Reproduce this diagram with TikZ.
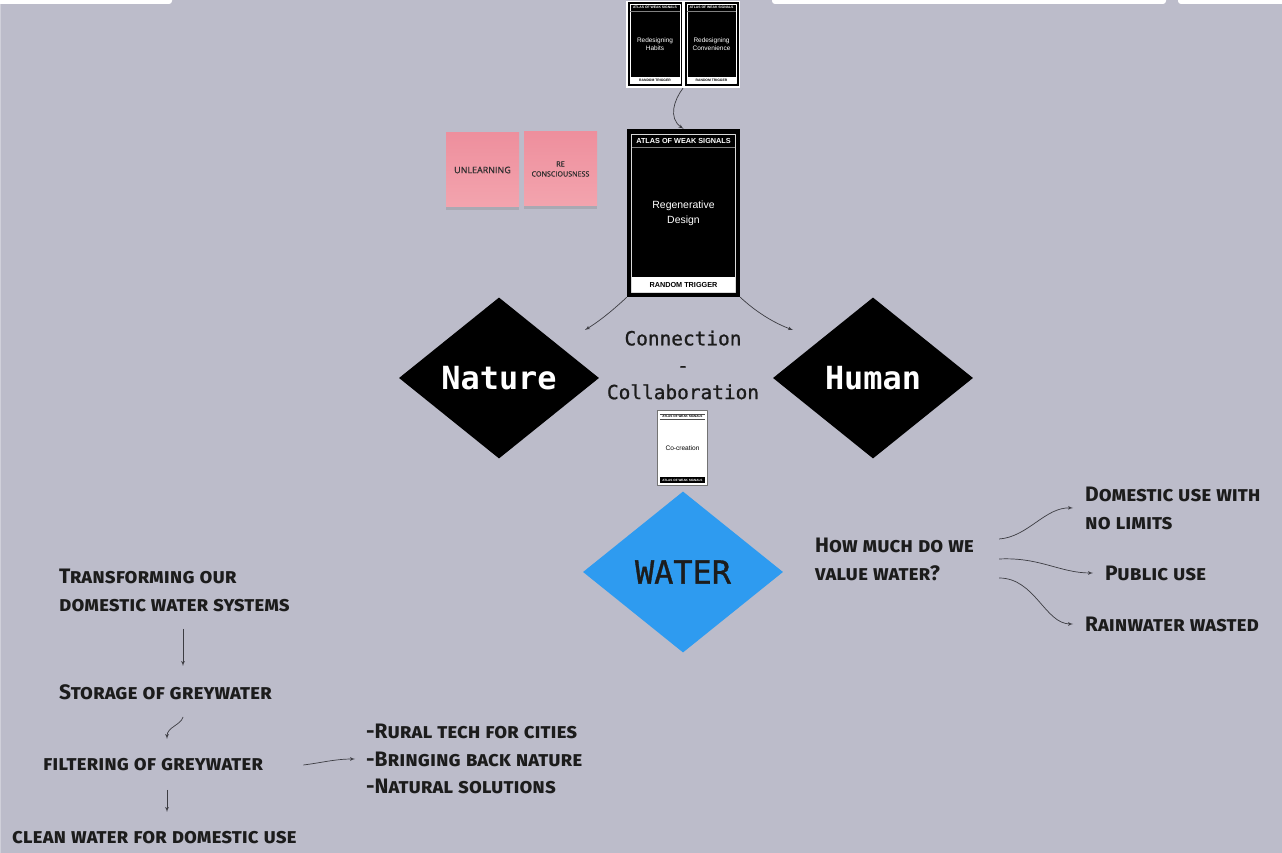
\documentclass[tikz,border=0pt]{standalone}
\usepackage{fontspec}
\setmainfont{Liberation Sans}
\newfontfamily\monofont[FakeBold=1]{DejaVu Sans Mono}
\newfontfamily\monobold{DejaVu Sans Mono Bold}
\newfontfamily\stickyfont[FakeBold=0.8]{Open Sans}
\newfontfamily\handfont[Letters=SmallCaps]{Fira Sans}
\usepackage[x11names, svgnames, rgb]{xcolor}
\usepackage{tikz}
\usetikzlibrary{arrows,shapes,shadows}
\definecolor{board}{RGB}{188,188,202}
\definecolor{ink}{RGB}{28,28,28}
\definecolor{wire}{RGB}{60,60,66}
\definecolor{waterblue}{RGB}{46,155,240}
\definecolor{pinktop}{RGB}{238,143,157}
\definecolor{pinkbot}{RGB}{243,164,174}

\begin{document}
\begin{tikzpicture}[>=latex',line join=bevel,
  card/.style={fill=black,inner sep=0pt},
  diam/.style={shape=diamond,minimum width=200bp,minimum height=161bp,inner sep=0pt},
  sticky/.style={top color=pinktop,bottom color=pinkbot,minimum width=73bp,minimum height=74bp,
    inner sep=0pt,align=center,text=black!82,
    drop shadow={opacity=0.3,shadow xshift=0bp,shadow yshift=-3bp}},
  hand/.style={font=\handfont\bfseries\fontsize{21}{28}\selectfont,text=ink,align=left,anchor=west,inner sep=0pt},
  tiny/.style={font=\bfseries\fontsize{3.4}{4}\selectfont,inner sep=0pt},
  link/.style={->,draw=wire,line width=0.7bp}]
%%
\useasboundingbox (0bp,0bp) rectangle (1282bp,853bp);
\fill [board] (0bp,0bp) rectangle (1282bp,853bp);
\draw [board!70!white,line width=1.2bp] (0.6bp,0bp) -- (0.6bp,853bp);
\fill [white,rounded corners=3bp] (-5bp,849bp) rectangle (172bp,858bp);
\fill [white,rounded corners=3bp] (772bp,849bp) rectangle (1166bp,858bp);
\fill [white,rounded corners=3bp] (1178bp,849bp) rectangle (1287bp,858bp);
%
\node (pair) at (683.0bp,808.5bp) [fill=white,minimum width=114bp,minimum height=87bp,inner sep=0pt] {};
  \node (habits) at (655.0bp,809.0bp) [card,minimum width=54bp,minimum height=84bp] {};
  \node (conv) at (711.5bp,809.0bp) [card,minimum width=54bp,minimum height=84bp] {};
  \foreach \c in {habits,conv} {
    \draw [white,line width=0.4bp] ([shift={(2.5bp,-2.5bp)}]\c.north west) rectangle ([shift={(-2.5bp,2.5bp)}]\c.south east);
    \draw [gray,line width=0.4bp] ([shift={(2.5bp,-9bp)}]\c.north west) -- ([shift={(-2.5bp,-9bp)}]\c.north east);
    \fill [white] ([shift={(2.5bp,2.5bp)}]\c.south west) rectangle ([shift={(-2.5bp,9.5bp)}]\c.south east);
    \node at ([yshift=-5.8bp]\c.north) [tiny,text=white] {ATLAS OF WEAK SIGNALS};
    \node at ([yshift=6bp]\c.south) [tiny] {RANDOM TRIGGER};
  }
  \node at (habits) [text=white,align=center,font=\fontsize{6.5}{8}\selectfont] {Redesigning\\Habits};
  \node at (conv) [text=white,align=center,font=\fontsize{6.5}{8}\selectfont] {Redesigning\\Convenience};
%
\node (regen) at (683.5bp,640.0bp) [card,minimum width=113bp,minimum height=168bp] {};
  \draw [white!85!black,line width=0.8bp] ([shift={(5bp,-6bp)}]regen.north west) rectangle ([shift={(-5bp,5bp)}]regen.south east);
  \draw [gray,line width=0.8bp] ([shift={(5bp,-19bp)}]regen.north west) -- ([shift={(-5bp,-19bp)}]regen.north east);
  \fill [white] ([shift={(5bp,5bp)}]regen.south west) rectangle ([shift={(-5bp,20bp)}]regen.south east);
  \node at ([yshift=-12.5bp]regen.north) [inner sep=0pt,text=white,font=\bfseries\fontsize{7.3}{8}\selectfont] {ATLAS OF WEAK SIGNALS};
  \node at ([yshift=12.5bp]regen.south) [inner sep=0pt,font=\bfseries\fontsize{7.3}{8}\selectfont] {RANDOM TRIGGER};
  \node at (regen) [text=white,align=center,font=\fontsize{10.5}{15}\selectfont] {Regenerative\\Design};
\draw [link] (pair.south) ..controls (674bp,753bp) and (668bp,735bp)  .. (regen.north);
%
\node (unlearn) at (482.5bp,683.0bp) [sticky,font=\stickyfont\fontsize{9}{10}\selectfont] {UNLEARNING};
  \node (recon) at (560.5bp,684.0bp) [sticky,font=\stickyfont\fontsize{7.2}{10}\selectfont] {RE\\CONSCIOUSNESS};
%
\node (nature) at (499.0bp,475.0bp) [diam,fill=black,text=white,font=\monobold\fontsize{32}{36}\selectfont] {Nature};
  \node (human) at (873.0bp,475.0bp) [diam,fill=black,text=white,font=\monobold\fontsize{32}{36}\selectfont] {Human};
  \node (connect) at (683.0bp,488.0bp) [align=center,text=ink,font=\monofont\fontsize{19.5}{27}\selectfont] {Connection\\-\\Collaboration};
  \coordinate (natTip) at (585bp,523bp);
  \coordinate (humTip) at (793bp,523bp);
  \draw [link] (regen.south west) ..controls (611bp,541bp) and (598bp,531bp)  .. (natTip);
  \draw [link] (regen.south east) ..controls (756bp,541bp) and (774bp,530bp)  .. (humTip);
%
\node (cocreate) at (682.5bp,405.0bp) [fill=white,draw=black!55,line width=1.2bp,minimum width=50bp,minimum height=75bp,inner sep=0pt] {};
  \draw [black!70,line width=0.3bp] ([shift={(3bp,-4bp)}]cocreate.north west) -- ([shift={(-3bp,-4bp)}]cocreate.north east);
  \draw [black!70,line width=0.3bp] ([shift={(3bp,-9bp)}]cocreate.north west) -- ([shift={(-3bp,-9bp)}]cocreate.north east);
  \node at ([yshift=-6.5bp]cocreate.north) [tiny,font=\bfseries\fontsize{3.1}{4}\selectfont] {ATLAS OF WEAK SIGNALS};
  \fill [black] ([shift={(3bp,3bp)}]cocreate.south west) rectangle ([shift={(-3bp,9bp)}]cocreate.south east);
  \node at ([yshift=6bp]cocreate.south) [tiny,text=white,font=\bfseries\fontsize{3.1}{4}\selectfont] {ATLAS OF WEAK SIGNALS};
  \node at (cocreate) [font=\fontsize{6.6}{8}\selectfont] {Co-creation};
%
\node (water) at (683.0bp,281.0bp) [diam,fill=waterblue,text=ink,font=\monofont\fontsize{32}{36}\selectfont] {WATER};
%
\node (value) at (815.0bp,294.0bp) [hand] {How much do we\\value water?};
  \node (domestic) at (1085.0bp,345.0bp) [hand] {Domestic use with\\no limits};
  \node (public) at (1105.0bp,280.0bp) [hand] {Public use};
  \node (rain) at (1085.0bp,229.0bp) [hand] {Rainwater wasted};
  \draw [link] ([xshift=25bp,yshift=20bp]value.east) ..controls (1028bp,316bp) and (1045bp,346bp)  .. ([xshift=-12bp]domestic.west);
  \draw [link] ([xshift=25bp]value.east) ..controls (1040bp,296bp) and (1060bp,280bp)  .. ([xshift=-12bp]public.west);
  \draw [link] ([xshift=25bp,yshift=-19bp]value.east) ..controls (1035bp,275bp) and (1045bp,229bp)  .. ([xshift=-12bp]rain.west);
%
\node (transform) at (59.0bp,263.0bp) [hand] {Transforming our\\domestic water systems};
  \node (storage) at (59.0bp,161.0bp) [hand] {Storage of greywater};
  \node (filter) at (43.0bp,88.0bp) [hand] {filtering of greywater};
  \node (clean) at (12.0bp,15.0bp) [hand] {clean water for domestic use};
  \node (ideas) at (366.0bp,94.0bp) [hand] {-Rural tech for cities\\-Bringing back nature\\-Natural solutions};
  \draw [link] ([shift={(124bp,-39bp)}]transform.west) -- ([shift={(124bp,26bp)}]storage.west);
  \draw [link] ([shift={(124bp,-25bp)}]storage.west) ..controls (181bp,128bp) and (167bp,126bp)  .. ([shift={(124bp,26bp)}]filter.west);
  \draw [link] ([shift={(124bp,-25bp)}]filter.west) -- ([shift={(155bp,26bp)}]clean.west);
  \draw [link] ([xshift=40bp]filter.east) ..controls (320bp,90bp) and (335bp,94bp)  .. ([xshift=-11bp]ideas.west);
%
\end{tikzpicture}
\end{document}
